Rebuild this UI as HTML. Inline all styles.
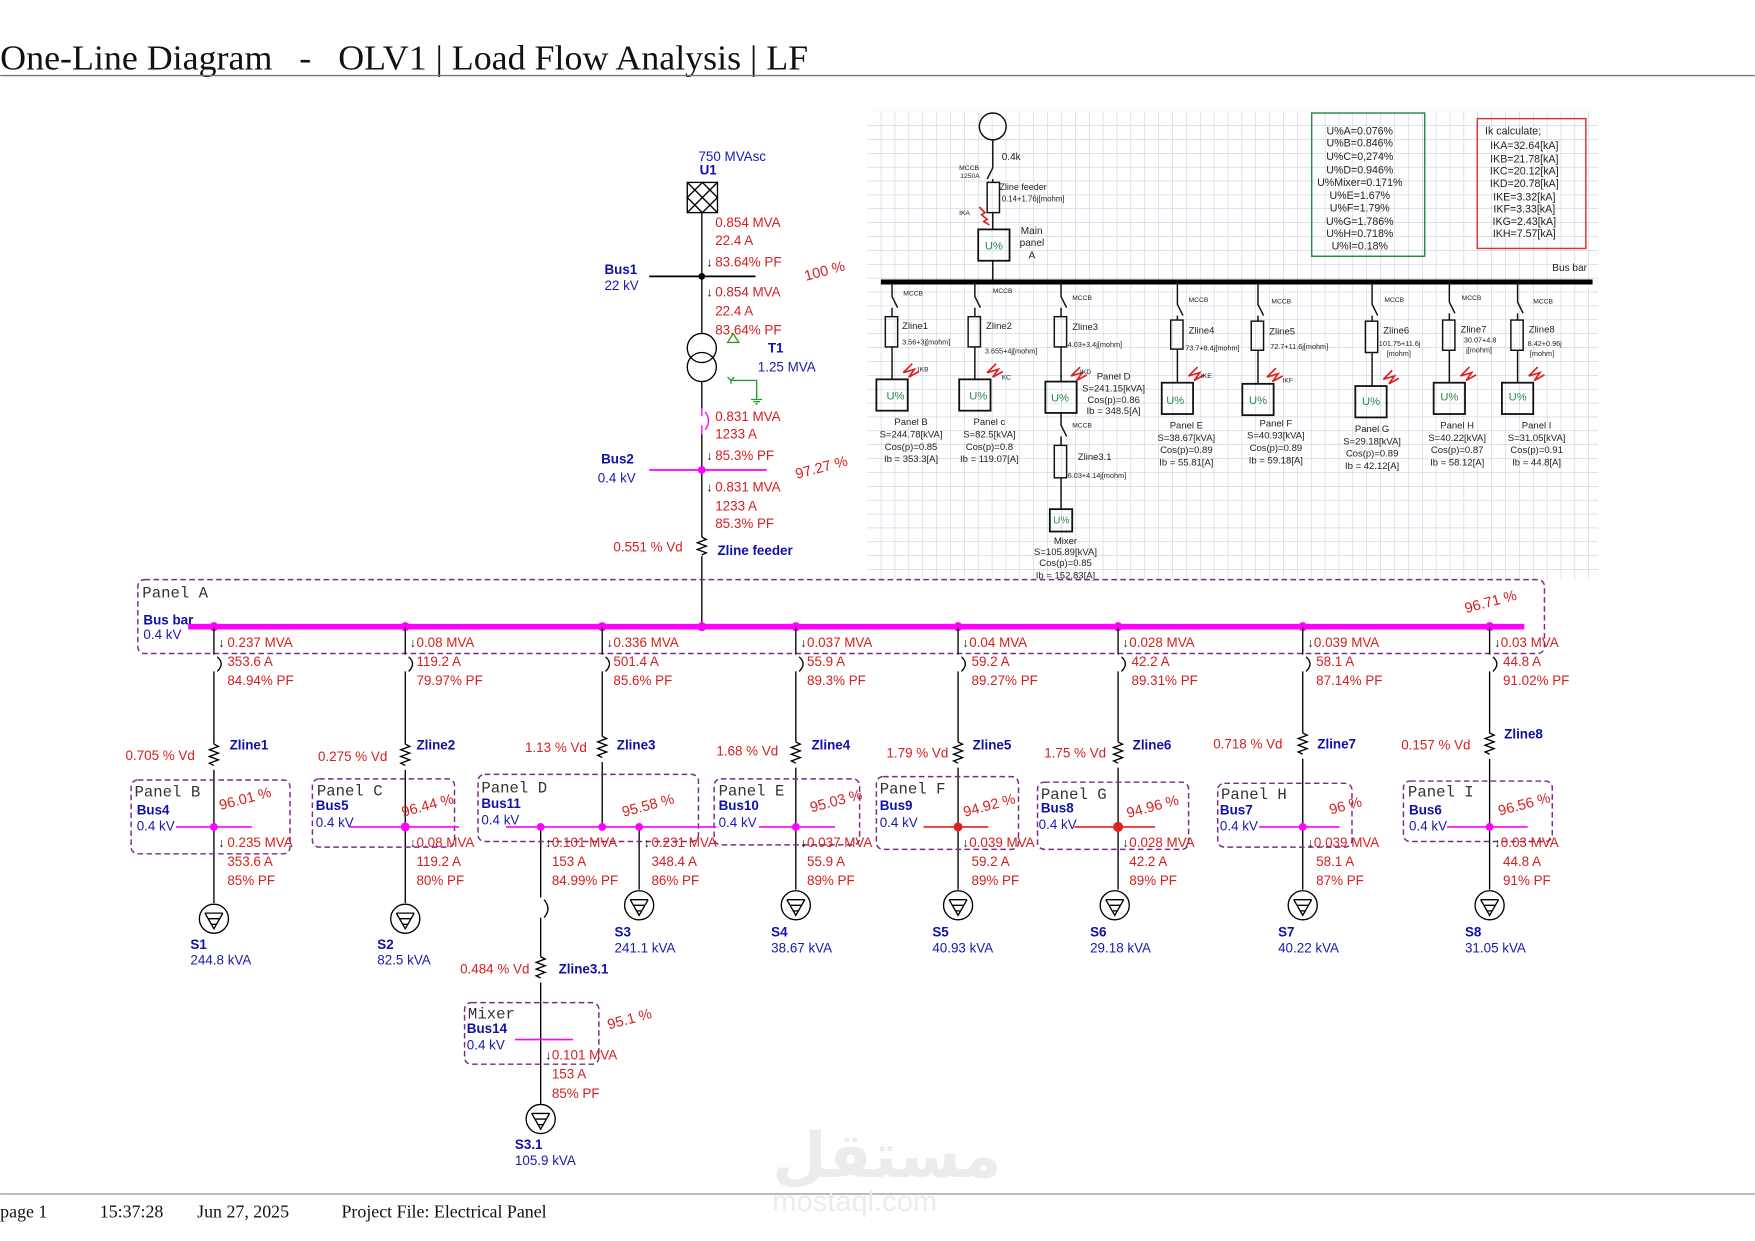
<!DOCTYPE html>
<html><head><meta charset="utf-8"><style>
html,body{margin:0;padding:0;background:#fff;width:1755px;height:1241px;overflow:hidden}
svg{display:block;font-family:"Liberation Sans",sans-serif}
.r{fill:#d42020;font-size:12px}
.b{fill:#1a1ab0;font-size:12px}
.bb{fill:#1010a8;font-size:12px;font-weight:bold}
.m{fill:#333;font-size:14px;font-family:"Liberation Mono",monospace}
.k{fill:#000;font-size:12px}
.s{fill:#222;font-size:9px}
.t{fill:#222;font-size:6px}
.u{fill:#2a8a4a;font-size:10px}
.ser{font-family:"Liberation Serif",serif}
.pb{fill:none;stroke:#7a2a8a;stroke-width:1.3;stroke-dasharray:5,3}
</style></head><body>
<svg width="1755" height="1241" viewBox="0 0 1568 1109" xmlns="http://www.w3.org/2000/svg">
<defs>
<pattern id="g" x="775" y="100" width="12.4" height="12.4" patternUnits="userSpaceOnUse">
<path d="M12.4 0V12.4H0" fill="none" stroke="#b9c6d8" stroke-width="0.8"/>
</pattern>
</defs>
<!-- title -->
<text x="0" y="62" class="ser" style="font-size:31px" fill="#111" textLength="722" lengthAdjust="spacingAndGlyphs">One-Line Diagram &#160;&#160;- &#160;&#160;OLV1 | Load Flow Analysis | LF</text>
<line x1="0" y1="67.5" x2="1568" y2="67.5" stroke="#777" stroke-width="1.2"/>
<!-- footer -->
<line x1="0" y1="1067" x2="1568" y2="1067" stroke="#777" stroke-width="1"/>
<g class="ser" style="font-size:16px" fill="#111">
<text x="0" y="1088">page 1</text><text x="89" y="1088">15:37:28</text><text x="176" y="1088">Jun 27, 2025</text><text x="305" y="1088">Project File: Electrical Panel</text></g>
<!-- watermark -->
<text x="690" y="1052" style="font-size:56px;font-weight:bold;font-family:'DejaVu Sans',sans-serif" fill="#ececec">مستقل</text>
<text x="690" y="1082" style="font-size:26px" fill="#ececec">mostaql.com</text>

<!-- right raster-like image -->
<rect x="775" y="100" width="653" height="418" fill="url(#g)"/>
<g stroke="#111" fill="none" stroke-width="1.3">
<circle cx="887" cy="113" r="12"/><line x1="887" y1="125" x2="887" y2="150"/>
<line x1="887" y1="150" x2="882" y2="160"/><line x1="887" y1="160" x2="887" y2="163"/>
<rect x="882" y="163" width="11" height="27"/><line x1="887" y1="190" x2="887" y2="205"/>
<rect x="874" y="205" width="28" height="28" stroke-width="1.6"/><line x1="887" y1="233" x2="887" y2="252"/>
<rect x="1172" y="101" width="101" height="128" stroke="#2a8a4a"/>
<rect x="1320" y="106" width="97" height="116" stroke="#e03030"/>
</g>
<line x1="787" y1="252" x2="1423" y2="252" stroke="#000" stroke-width="4.5"/>
<text x="895" y="143" class="s">0.4k</text><text x="857" y="152" class="t">MCCB</text><text x="858" y="159" class="t">1250A</text>
<text x="893" y="170" class="s" style="font-size:8px">Zline feeder</text><text x="895" y="180" class="t" style="font-size:7px">0.14+1.76j[mohm]</text>
<text x="857" y="192" class="t">IKA</text><text x="880" y="223" class="u">U%</text>
<text x="912" y="209" class="s">Main</text><text x="911" y="220" class="s">panel</text><text x="919" y="231" class="s">A</text>
<text x="1387" y="242" class="s">Bus bar</text>
<g class="s" text-anchor="middle" style="font-size:9.5px">
<text x="1215" y="120">U%A=0.076%</text><text x="1215" y="131">U%B=0.846%</text><text x="1215" y="143">U%C=0,274%</text><text x="1215" y="155">U%D=0.946%</text><text x="1215" y="166">U%Mixer=0.171%</text><text x="1215" y="178">U%E=1.67%</text><text x="1215" y="189">U%F=1.79%</text><text x="1215" y="201">U%G=1.786%</text><text x="1215" y="212">U%H=0.718%</text><text x="1215" y="223">U%I=0.18%</text>
<text x="1352" y="120">Ik calculate;</text><text x="1362" y="133">IKA=32.64[kA]</text><text x="1362" y="145">IKB=21.78[kA]</text><text x="1362" y="156">IKC=20.12[kA]</text><text x="1362" y="167">IKD=20.78[kA]</text><text x="1362" y="179">IKE=3.32[kA]</text><text x="1362" y="190">IKF=3.33[kA]</text><text x="1362" y="201">IKG=2.43[kA]</text><text x="1362" y="212">IKH=7.57[kA]</text>
</g>
<!-- right branches -->
<g stroke="#111" fill="none" stroke-width="1.3">
<path d="M797 252V265L802 275M797 275V283M797 310V339"/><rect x="791" y="283" width="11" height="27"/><rect x="783" y="339" width="28" height="28" stroke-width="1.6"/>
<path d="M871 252V265L876 275M871 275V283M871 310V339"/><rect x="865" y="283" width="11" height="27"/><rect x="857" y="339" width="28" height="28" stroke-width="1.6"/>
<path d="M948 252V265L953 275M948 275V283M948 310V341M948 369V380L953 390M948 390V398M948 427V455"/><rect x="942" y="283" width="11" height="27"/><rect x="934" y="341" width="28" height="28" stroke-width="1.6"/><rect x="942" y="398" width="11" height="29"/><rect x="938" y="455" width="20" height="20" stroke-width="1.6"/>
<path d="M1052 252V272L1057 282M1052 282V286M1052 312V342"/><rect x="1046" y="286" width="11" height="26"/><rect x="1038" y="342" width="28" height="28" stroke-width="1.6"/>
<path d="M1124 252V272L1129 282M1124 282V287M1124 313V343"/><rect x="1118" y="287" width="11" height="26"/><rect x="1110" y="343" width="28" height="28" stroke-width="1.6"/>
<path d="M1226 252V272L1231 282M1226 282V287M1226 315V345"/><rect x="1220" y="287" width="11" height="28"/><rect x="1211" y="345" width="28" height="28" stroke-width="1.6"/>
<path d="M1295 252V270L1300 280M1295 280V286M1295 313V342"/><rect x="1289" y="286" width="11" height="27"/><rect x="1281" y="342" width="28" height="28" stroke-width="1.6"/>
<path d="M1356 252V270L1361 280M1356 280V286M1356 313V342"/><rect x="1350" y="286" width="11" height="27"/><rect x="1342" y="342" width="28" height="28" stroke-width="1.6"/>
</g>
<g stroke="#e02020" fill="none" stroke-width="1.5">
<path d="M875 185l5 5-3 2 5 4-3 2 5 3"/><path d="M815 325l-8 8l10-3l-5 7l9-5"/><path d="M890 325l-8 8l10-3l-5 7l9-5"/><path d="M965 328l-8 8l10-3l-5 7l9-5"/><path d="M1070 328l-8 8l10-3l-5 7l9-5"/><path d="M1140 329l-8 8l10-3l-5 7l9-5"/><path d="M1244 331l-8 8l10-3l-5 7l9-5"/><path d="M1313 328l-8 8l10-3l-5 7l9-5"/><path d="M1374 328l-8 8l10-3l-5 7l9-5"/>
</g>
<g class="u"><text x="792" y="357">U%</text><text x="866" y="357">U%</text><text x="939" y="359">U%</text><text x="1042" y="361">U%</text><text x="1116" y="361">U%</text><text x="1217" y="362">U%</text><text x="1287" y="358">U%</text><text x="1348" y="358">U%</text><text x="941" y="468" style="font-size:9px">U%</text></g>
<g class="t"><text x="807" y="264">MCCB</text><text x="887" y="262">MCCB</text><text x="958" y="268">MCCB</text><text x="1062" y="270">MCCB</text><text x="1136" y="271">MCCB</text><text x="1237" y="270">MCCB</text><text x="1306" y="268">MCCB</text><text x="1370" y="271">MCCB</text><text x="958" y="382">MCCB</text>
<text x="820" y="332">IKB</text><text x="895" y="339">KC</text><text x="965" y="334">IKD</text><text x="1073" y="338">IKE</text><text x="1146" y="342">IKF</text></g>
<g class="s" style="font-size:8.5px"><text x="806" y="294">Zline1</text><text x="881" y="294">Zline2</text><text x="958" y="295">Zline3</text><text x="1062" y="298">Zline4</text><text x="1134" y="299">Zline5</text><text x="1236" y="298">Zline6</text><text x="1305" y="297">Zline7</text><text x="1366" y="297">Zline8</text><text x="963" y="411">Zline3.1</text></g>
<g class="t" style="font-size:6.5px"><text x="806" y="308">3.56+3j[mohm]</text><text x="880" y="316">3.655+4j[mohm]</text><text x="954" y="310">4.03+3.4j[mohm]</text><text x="1059" y="313">73.7+8.4j[mohm]</text><text x="1135" y="312">72.7+11.6j[mohm]</text><text x="1232" y="309">101.75+11.6j</text><text x="1239" y="318">[mohm]</text><text x="1308" y="306">30.07+4.8</text><text x="1310" y="315">j[mohm]</text><text x="1365" y="309">8.42+0.96j</text><text x="1367" y="318">[mohm]</text><text x="954" y="427">6.03+4.14j[mohm]</text></g>
<g class="s" text-anchor="middle" style="font-size:8.5px">
<text x="814" y="380">Panel B</text><text x="814" y="391">S=244.78[kVA]</text><text x="814" y="402">Cos(p)=0.85</text><text x="814" y="413">Ib = 353.3[A]</text>
<text x="884" y="380">Panel c</text><text x="884" y="391">S=82.5[kVA]</text><text x="884" y="402">Cos(p)=0.8</text><text x="884" y="413">Ib = 119.07[A]</text>
<text x="995" y="339">Panel D</text><text x="995" y="350">S=241.15[kVA]</text><text x="995" y="360">Cos(p)=0.86</text><text x="995" y="370">Ib = 348.5[A]</text>
<text x="1060" y="383">Panel E</text><text x="1060" y="394">S=38.67[kVA]</text><text x="1060" y="405">Cos(p)=0.89</text><text x="1060" y="416">Ib = 55.81[A]</text>
<text x="1140" y="381">Panel F</text><text x="1140" y="392">S=40.93[kVA]</text><text x="1140" y="403">Cos(p)=0.89</text><text x="1140" y="414">Ib = 59.18[A]</text>
<text x="1226" y="386">Panel G</text><text x="1226" y="397">S=29.18[kVA]</text><text x="1226" y="408">Cos(p)=0.89</text><text x="1226" y="419">Ib = 42.12[A]</text>
<text x="1302" y="383">Panel H</text><text x="1302" y="394">S=40.22[kVA]</text><text x="1302" y="405">Cos(p)=0.87</text><text x="1302" y="416">Ib = 58.12[A]</text>
<text x="1373" y="383">Panel I</text><text x="1373" y="394">S=31.05[kVA]</text><text x="1373" y="405">Cos(p)=0.91</text><text x="1373" y="416">Ib = 44.8[A]</text>
<text x="952" y="486">Mixer</text><text x="952" y="496">S=105.89[kVA]</text><text x="952" y="506">Cos(p)=0.85</text><text x="952" y="517">Ib = 152.83[A]</text>
</g>

<!-- top feeder -->
<text x="624" y="144" class="b">750 MVAsc</text><text x="625" y="156" class="bb">U1</text>
<g stroke="#000" fill="none" stroke-width="1.2">
<rect x="614" y="163" width="27" height="27"/><path d="M614 163L641 190M641 163L614 190M627.5 163L641 176.5L627.5 190L614 176.5Z"/>
<line x1="627" y1="190" x2="627" y2="298"/>
<circle cx="627" cy="311" r="13"/><circle cx="627" cy="328" r="13"/>
<line x1="627" y1="341" x2="627" y2="365"/><line x1="627" y1="388" x2="627" y2="480"/>
<path d="M627 480l4 2-8 3 8 3-8 3 8 3-4 2"/>
<line x1="627" y1="497" x2="627" y2="560"/>
<line x1="580" y1="247" x2="675" y2="247" stroke-width="1.5"/>
</g>
<circle cx="627" cy="247" r="3" fill="#000"/>
<path d="M627 365V372M627 380V388M630 368Q636 376 630 384" stroke="#f0f" fill="none" stroke-width="1.2"/>
<line x1="580" y1="420" x2="685" y2="420" stroke="#f0f" stroke-width="1.5"/><circle cx="627" cy="420" r="3.5" fill="#f0f"/>
<path d="M650 306l5-8 5 8z" fill="none" stroke="#2a9a2a" stroke-width="1.2"/>
<path d="M650 337l3 3 3-3M653 340V343M653 340H676V357M671 357h10M673 359h6M675 361h2" fill="none" stroke="#2a9a2a" stroke-width="1.2"/>
<g class="r"><text x="639" y="203">0.854 MVA</text><text x="639" y="219">22.4 A</text><text x="639" y="238">83.64% PF</text>
<text x="639" y="265">0.854 MVA</text><text x="639" y="282">22.4 A</text><text x="639" y="299">83.64% PF</text>
<text x="639" y="376">0.831 MVA</text><text x="639" y="392">1233 A</text><text x="639" y="411">85.3% PF</text>
<text x="639" y="439">0.831 MVA</text><text x="639" y="456">1233 A</text><text x="639" y="472">85.3% PF</text>
<text x="548" y="493">0.551 % Vd</text></g>
<g class="k" style="font-size:11px"><text x="631" y="238">↓</text><text x="631" y="265">↓</text><text x="631" y="411">↓</text><text x="631" y="439">↓</text></g>
<text x="540" y="245" class="bb">Bus1</text><text x="540" y="259" class="b">22 kV</text>
<text x="537" y="414" class="bb">Bus2</text><text x="534" y="431" class="b">0.4 kV</text>
<text x="686" y="315" class="bb">T1</text><text x="677" y="332" class="b">1.25 MVA</text>
<text x="641" y="496" class="bb">Zline feeder</text>
<text x="720" y="251" class="r" transform="rotate(-15 720 251)" style="font-size:13px">100 %</text>
<text x="712" y="428" class="r" transform="rotate(-15 712 428)" style="font-size:13px">97.27 %</text>

<!-- Panel A -->
<rect x="123" y="518" width="1257" height="66" rx="6" class="pb"/>
<text x="127" y="534" class="m">Panel A</text>
<text x="128" y="558" class="bb">Bus bar</text><text x="128" y="571" class="b">0.4 kV</text>
<text x="1310" y="548" class="r" transform="rotate(-15 1310 548)" style="font-size:13px">96.71 %</text>
<line x1="168" y1="560" x2="1362" y2="560" stroke="#f0f" stroke-width="5"/>
<g fill="#f0f"><circle cx="191" cy="560" r="4"/><circle cx="362" cy="560" r="4"/><circle cx="538" cy="560" r="4"/><circle cx="627" cy="560" r="4"/><circle cx="711" cy="560" r="4"/><circle cx="856" cy="560" r="4"/><circle cx="999" cy="560" r="4"/><circle cx="1164" cy="560" r="4"/><circle cx="1331" cy="560" r="4"/></g>

<!-- branch wiring -->
<g stroke="#000" fill="none" stroke-width="1.2">
<path d="M191 560V585M191 600V665M191 688V807M194 587Q201 593 194 600"/>
<path d="M362 560V585M362 600V665M362 688V807M365 587Q372 593 365 600"/>
<path d="M538 560V585M538 600V658M538 681V739M541 587Q548 593 541 600"/>
<path d="M711 560V585M711 600V663M711 686V795M714 587Q721 593 714 600"/>
<path d="M856 560V585M856 600V663M856 686V795M859 587Q866 593 859 600"/>
<path d="M999 560V585M999 600V663M999 686V795M1002 587Q1009 593 1002 600"/>
<path d="M1164 560V585M1164 600V655M1164 678V795M1167 587Q1174 593 1167 600"/>
<path d="M1331 560V585M1331 600V655M1331 678V795M1334 587Q1341 593 1334 600"/>
<path d="M483 739V802M483 820V855M483 878V987M486 804Q493 812 486 820"/>
<path d="M571 739V795"/>
<path d="M191 665l4 2-8 3 8 3-8 3 8 3-8 3 4 2"/>
<path d="M362 665l4 2-8 3 8 3-8 3 8 3-8 3 4 2"/>
<path d="M538 658l4 2-8 3 8 3-8 3 8 3-8 3 4 2"/>
<path d="M711 663l4 2-8 3 8 3-8 3 8 3-8 3 4 2"/>
<path d="M856 663l4 2-8 3 8 3-8 3 8 3-8 3 4 2"/>
<path d="M999 663l4 2-8 3 8 3-8 3 8 3-8 3 4 2"/>
<path d="M1164 655l4 2-8 3 8 3-8 3 8 3-8 3 4 2"/>
<path d="M1331 655l4 2-8 3 8 3-8 3 8 3-8 3 4 2"/>
<path d="M483 855l4 2-8 3 8 3-8 3 8 3-8 3 4 2"/>
<g><circle cx="191" cy="821" r="13"/><path d="M183 816H199M186 821H196M189 826H193M183 816L191 830L199 816"/></g>
<g transform="translate(171 0)"><circle cx="191" cy="821" r="13"/><path d="M183 816H199M186 821H196M189 826H193M183 816L191 830L199 816"/></g>
<g transform="translate(380 -12)"><circle cx="191" cy="821" r="13"/><path d="M183 816H199M186 821H196M189 826H193M183 816L191 830L199 816"/></g>
<g transform="translate(520 -12)"><circle cx="191" cy="821" r="13"/><path d="M183 816H199M186 821H196M189 826H193M183 816L191 830L199 816"/></g>
<g transform="translate(665 -12)"><circle cx="191" cy="821" r="13"/><path d="M183 816H199M186 821H196M189 826H193M183 816L191 830L199 816"/></g>
<g transform="translate(805 -12)"><circle cx="191" cy="821" r="13"/><path d="M183 816H199M186 821H196M189 826H193M183 816L191 830L199 816"/></g>
<g transform="translate(973 -12)"><circle cx="191" cy="821" r="13"/><path d="M183 816H199M186 821H196M189 826H193M183 816L191 830L199 816"/></g>
<g transform="translate(1140 -12)"><circle cx="191" cy="821" r="13"/><path d="M183 816H199M186 821H196M189 826H193M183 816L191 830L199 816"/></g>
<g transform="translate(292 179)"><circle cx="191" cy="821" r="13"/><path d="M183 816H199M186 821H196M189 826H193M183 816L191 830L199 816"/></g>
</g>
<!-- sub-panel boxes -->
<rect x="117" y="697" width="142" height="66" rx="6" class="pb"/>
<rect x="279" y="696" width="127" height="61" rx="6" class="pb"/>
<rect x="427" y="692" width="197" height="60" rx="6" class="pb"/>
<rect x="638" y="696" width="130" height="59" rx="6" class="pb"/>
<rect x="783" y="694" width="127" height="65" rx="6" class="pb"/>
<rect x="927" y="699" width="135" height="60" rx="6" class="pb"/>
<rect x="1088" y="700" width="120" height="57" rx="6" class="pb"/>
<rect x="1254" y="698" width="133" height="54" rx="6" class="pb"/>
<rect x="415" y="896" width="120" height="55" rx="6" class="pb"/>
<g stroke-width="1.5">
<line x1="157" y1="739" x2="225" y2="739" stroke="#f0f"/><line x1="312" y1="739" x2="410" y2="739" stroke="#f0f"/>
<line x1="452" y1="739" x2="640" y2="739" stroke="#f0f"/><line x1="678" y1="739" x2="746" y2="739" stroke="#f0f"/>
<line x1="825" y1="739" x2="883" y2="739" stroke="#e02020"/><line x1="960" y1="739" x2="1032" y2="739" stroke="#e02020"/>
<line x1="1125" y1="739" x2="1197" y2="739" stroke="#f0f"/><line x1="1293" y1="739" x2="1365" y2="739" stroke="#f0f"/>
<line x1="460" y1="929" x2="512" y2="929" stroke="#f0f"/>
</g>
<g fill="#f0f"><circle cx="191" cy="739" r="3.5"/><circle cx="362" cy="739" r="4"/><circle cx="483" cy="739" r="3.5"/><circle cx="538" cy="739" r="3.5"/><circle cx="571" cy="739" r="3.5"/><circle cx="711" cy="739" r="3.5"/><circle cx="1164" cy="739" r="3.5"/><circle cx="1331" cy="739" r="3.5"/></g>
<g fill="#e02020"><circle cx="856" cy="739" r="4"/><circle cx="999" cy="739" r="4.5"/></g>

<g class="m"><text x="120" y="712">Panel B</text><text x="283" y="711">Panel C</text><text x="430" y="708">Panel D</text><text x="642" y="711">Panel E</text><text x="786" y="709">Panel F</text><text x="930" y="714">Panel G</text><text x="1091" y="714">Panel H</text><text x="1258" y="712">Panel I</text><text x="418" y="910">Mixer</text></g>
<g class="bb"><text x="122" y="728">Bus4</text><text x="282" y="724">Bus5</text><text x="430" y="722">Bus11</text><text x="642" y="724">Bus10</text><text x="786" y="724">Bus9</text><text x="930" y="726">Bus8</text><text x="1090" y="728">Bus7</text><text x="1259" y="728">Bus6</text><text x="417" y="923">Bus14</text></g>
<g class="b"><text x="122" y="742">0.4 kV</text><text x="282" y="739">0.4 kV</text><text x="430" y="737">0.4 kV</text><text x="642" y="739">0.4 kV</text><text x="786" y="739">0.4 kV</text><text x="928" y="741">0.4 kV</text><text x="1090" y="742">0.4 kV</text><text x="1259" y="742">0.4 kV</text><text x="417" y="938">0.4 kV</text></g>
<g class="r" style="font-size:13px">
<text x="197" y="724" transform="rotate(-15 197 724)">96.01 %</text>
<text x="360" y="730" transform="rotate(-15 360 730)">96.44 %</text>
<text x="557" y="730" transform="rotate(-15 557 730)">95.58 %</text>
<text x="725" y="726" transform="rotate(-15 725 726)">95.03 %</text>
<text x="862" y="730" transform="rotate(-15 862 730)">94.92 %</text>
<text x="1008" y="731" transform="rotate(-15 1008 731)">94.96 %</text>
<text x="1189" y="728" transform="rotate(-15 1189 728)">96 %</text>
<text x="1340" y="729" transform="rotate(-15 1340 729)">96.56 %</text>
<text x="544" y="920" transform="rotate(-15 544 920)">95.1 %</text>
</g>
<g class="k" style="font-size:11px">
<text x="195" y="578">↓</text><text x="366" y="578">↓</text><text x="542" y="578">↓</text><text x="715" y="578">↓</text><text x="860" y="578">↓</text><text x="1003" y="578">↓</text><text x="1168" y="578">↓</text><text x="1335" y="578">↓</text>
<text x="195" y="757">↓</text><text x="366" y="757">↓</text><text x="487" y="757">↓</text><text x="575" y="757">↓</text><text x="715" y="757">↓</text><text x="860" y="757">↓</text><text x="1003" y="757">↓</text><text x="1168" y="757">↓</text><text x="1335" y="757">↓</text><text x="487" y="947">↓</text>
</g>
<g class="r">
<text x="203" y="578">0.237 MVA</text><text x="203" y="595">353.6 A</text><text x="203" y="612">84.94% PF</text>
<text x="372" y="578">0.08 MVA</text><text x="372" y="595">119.2 A</text><text x="372" y="612">79.97% PF</text>
<text x="548" y="578">0.336 MVA</text><text x="548" y="595">501.4 A</text><text x="548" y="612">85.6% PF</text>
<text x="721" y="578">0.037 MVA</text><text x="721" y="595">55.9 A</text><text x="721" y="612">89.3% PF</text>
<text x="866" y="578">0.04 MVA</text><text x="868" y="595">59.2 A</text><text x="868" y="612">89.27% PF</text>
<text x="1009" y="578">0.028 MVA</text><text x="1011" y="595">42.2 A</text><text x="1011" y="612">89.31% PF</text>
<text x="1174" y="578">0.039 MVA</text><text x="1176" y="595">58.1 A</text><text x="1176" y="612">87.14% PF</text>
<text x="1341" y="578">0.03 MVA</text><text x="1343" y="595">44.8 A</text><text x="1343" y="612">91.02% PF</text>
<text x="203" y="757">0.235 MVA</text><text x="203" y="774">353.6 A</text><text x="203" y="791">85% PF</text>
<text x="372" y="757">0.08 MVA</text><text x="372" y="774">119.2 A</text><text x="372" y="791">80% PF</text>
<text x="493" y="757">0.101 MVA</text><text x="493" y="774">153 A</text><text x="493" y="791">84.99% PF</text>
<text x="582" y="757">0.231 MVA</text><text x="582" y="774">348.4 A</text><text x="582" y="791">86% PF</text>
<text x="721" y="757">0.037 MVA</text><text x="721" y="774">55.9 A</text><text x="721" y="791">89% PF</text>
<text x="866" y="757">0.039 MVA</text><text x="868" y="774">59.2 A</text><text x="868" y="791">89% PF</text>
<text x="1009" y="757">0.028 MVA</text><text x="1009" y="774">42.2 A</text><text x="1009" y="791">89% PF</text>
<text x="1174" y="757">0.039 MVA</text><text x="1176" y="774">58.1 A</text><text x="1176" y="791">87% PF</text>
<text x="1341" y="757">0.03 MVA</text><text x="1343" y="774">44.8 A</text><text x="1343" y="791">91% PF</text>
<text x="493" y="947">0.101 MVA</text><text x="493" y="964">153 A</text><text x="493" y="981">85% PF</text>
<text x="112" y="679">0.705 % Vd</text><text x="284" y="680">0.275 % Vd</text><text x="469" y="672">1.13 % Vd</text><text x="640" y="675">1.68 % Vd</text><text x="792" y="677">1.79 % Vd</text><text x="933" y="677">1.75 % Vd</text><text x="1084" y="669">0.718 % Vd</text><text x="1252" y="670">0.157 % Vd</text><text x="411" y="870">0.484 % Vd</text>
</g>
<g class="bb"><text x="205" y="670">Zline1</text><text x="372" y="670">Zline2</text><text x="551" y="670">Zline3</text><text x="725" y="670">Zline4</text><text x="869" y="670">Zline5</text><text x="1012" y="670">Zline6</text><text x="1177" y="669">Zline7</text><text x="1344" y="660">Zline8</text><text x="499" y="870">Zline3.1</text>
<text x="170" y="848">S1</text><text x="337" y="848">S2</text><text x="549" y="837">S3</text><text x="689" y="837">S4</text><text x="833" y="837">S5</text><text x="974" y="837">S6</text><text x="1142" y="837">S7</text><text x="1309" y="837">S8</text><text x="460" y="1027">S3.1</text></g>
<g class="b"><text x="170" y="862">244.8 kVA</text><text x="337" y="862">82.5 kVA</text><text x="549" y="851">241.1 kVA</text><text x="689" y="851">38.67 kVA</text><text x="833" y="851">40.93 kVA</text><text x="974" y="851">29.18 kVA</text><text x="1142" y="851">40.22 kVA</text><text x="1309" y="851">31.05 kVA</text><text x="460" y="1041">105.9 kVA</text></g>
</svg>
</body></html>
